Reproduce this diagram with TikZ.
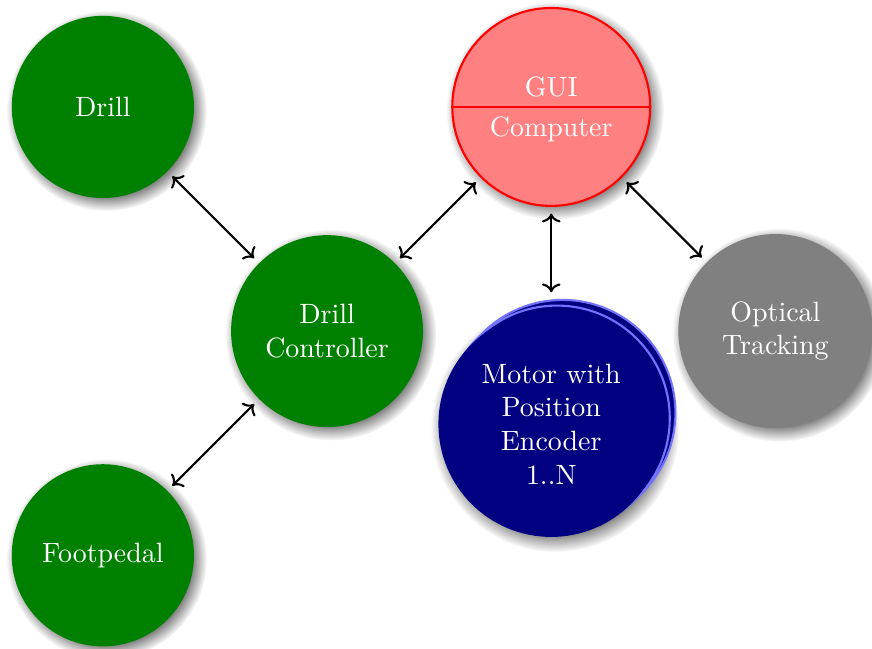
\documentclass[tikz,border=0pt]{standalone}
\usepackage{tikz}
\usetikzlibrary{arrows.meta,positioning,shadows,shapes.multipart}
\definecolor{hwgreen}{HTML}{008000}
\definecolor{hwnavy}{HTML}{000080}
\definecolor{hwgray}{HTML}{808080}
\definecolor{hwred}{HTML}{FF0000}

\begin{document}
\begin{tikzpicture}[node distance=2.99cm and 2.99cm,on grid,
    blob/.style={circle,text=white,align=center,font=\fontsize{10.6pt}{12.8pt}\selectfont,circular drop shadow},
    stack/.style={general shadow={shadow xshift=1ex,shadow yshift=1ex,fill=hwnavy,draw=blue!55,thick},
                  general shadow={shadow xshift=.5ex,shadow yshift=.5ex,fill=hwnavy,draw=blue!55,thick}},
    link/.style={<->,thick,shorten <=2.5pt,shorten >=2.5pt}]
    \useasboundingbox (0,0) rectangle (11.63,-8.645);
    \node[blob,fill=hwgreen,minimum size=2.56cm] (ctrl) at (4.362,-4.416) {Drill\\Controller};
    \node[blob,fill=hwgreen,minimum size=2.43cm,above left=of ctrl] (drill) {Drill};
    \node[blob,fill=hwgreen,minimum size=2.43cm,below left=of ctrl] (pedal) {Footpedal};
    \node[blob,circle split,draw=hwred,thick,fill=hwred!50,minimum size=2.64cm,above right=of ctrl] (gui) {GUI\nodepart{lower}Computer};
    \node[blob,stack,fill=hwnavy,minimum size=3.01cm,below=4.23cm of gui] (motor) {Motor with\\Position\\Encoder\\1..N};
    \node[blob,fill=hwgray,minimum size=2.59cm,below right=of gui] (track) {Optical\\Tracking};
    \draw[link] (drill) -- (ctrl);
    \draw[link] (pedal) -- (ctrl);
    \draw[link] (ctrl) -- (gui);
    \draw[link] (track) -- (gui);
    \draw[link,shorten >=7pt] (gui) -- (motor);
  \end{tikzpicture}
\end{document}
